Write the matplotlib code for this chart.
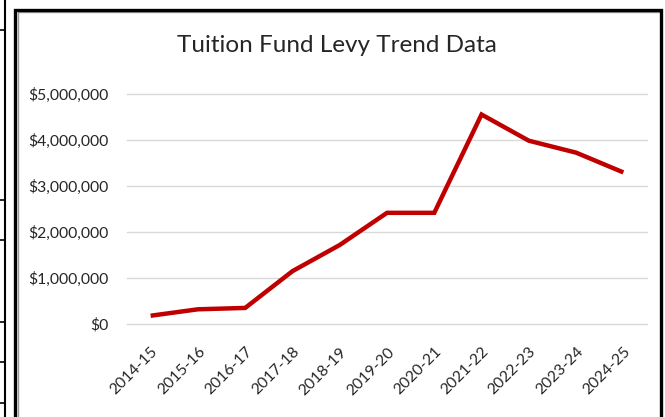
import matplotlib
matplotlib.use("Agg")
import matplotlib.pyplot as plt
from matplotlib.patches import Rectangle
from matplotlib.lines import Line2D
from matplotlib.ticker import FuncFormatter

# levy totals by fiscal year
years = ["2014-15", "2015-16", "2016-17", "2017-18", "2018-19", "2019-20",
         "2020-21", "2021-22", "2022-23", "2023-24", "2024-25"]
levy = [180000, 320000, 350000, 1150000, 1720000, 2420000,
        2420000, 4560000, 3990000, 3730000, 3300000]
y_ticks = [0, 1000000, 2000000, 3000000, 4000000, 5000000]

W, H = 665, 417
plt.rcParams['font.family'] = ['Lato', 'DejaVu Sans']

fig = plt.figure(figsize=(W / 100, H / 100), dpi=100)
fig.patch.set_facecolor("white")

ax = fig.add_axes([127 / W, 1 - 324 / H, 520 / W, (324 - 94.3) / H])
x = list(range(len(years)))
ax.plot(x, levy, color="#C00000", linewidth=3.2, solid_capstyle="butt",
        solid_joinstyle="miter", zorder=3)

ax.set_xlim(-0.5, len(years) - 0.5)
ax.set_ylim(0, 5000000)
ax.set_yticks(y_ticks)
ax.yaxis.set_major_formatter(FuncFormatter(lambda v, p: "${:,.0f}".format(v)))
ax.set_xticks(x)
ax.set_xticklabels(years, rotation=45, ha="right", rotation_mode="anchor")
ax.tick_params(axis="both", length=0, labelsize=11.3, colors="#262626")
ax.tick_params(axis="y", pad=13)
ax.tick_params(axis="x", pad=15)
ax.grid(axis="y", color="#D9D9D9", linewidth=1)
for gl in ax.get_ygridlines():
    gl.set_clip_on(False)
ax.set_axisbelow(True)
for s in ax.spines.values():
    s.set_visible(False)

fig.text(337 / W, 1 - 46 / H, "Tuition Fund Levy Trend Data", ha="center",
         va="center", fontsize=17.5, color="#262626")

# chart border and the table edge to its left
fig.add_artist(Rectangle((17.5 / W, -0.05), 643 / W, 1.05 - 12 / H,
                         transform=fig.transFigure, fill=False,
                         edgecolor="#999999", linewidth=1.0))
fig.add_artist(Rectangle((15 / W, -0.05), 646 / W, 1.05 - 10 / H,
                         transform=fig.transFigure, fill=False,
                         edgecolor="black", linewidth=2.4))
fig.add_artist(Line2D([5 / W, 5 / W], [0, 1], transform=fig.transFigure,
                      color="black", linewidth=1.5))
for yy in [30, 200, 240, 322, 362, 403]:
    fig.add_artist(Line2D([0, 5 / W], [1 - yy / H, 1 - yy / H],
                          transform=fig.transFigure, color="black", linewidth=1.2))

fig.savefig("out.png", dpi=100, facecolor="white")
